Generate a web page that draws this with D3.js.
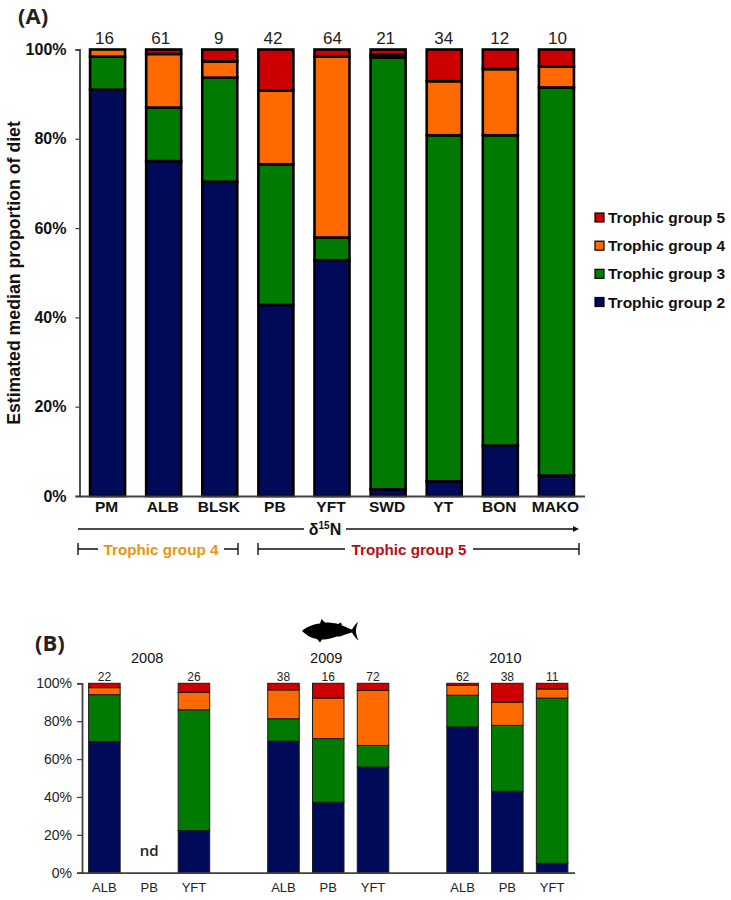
<!DOCTYPE html>
<html><head><meta charset="utf-8">
<script src="https://cdn.jsdelivr.net/npm/d3@7/dist/d3.min.js"></script>
<style>html,body{margin:0;padding:0;background:#fff}svg{display:block}text{font-family:"Liberation Sans",Arial,sans-serif}</style>
</head><body><svg id="c" width="731" height="900"></svg>
<script>
const groups = ["Trophic group 2","Trophic group 3","Trophic group 4","Trophic group 5"];
const colors = ["#000a58","#007a00","#ff6a00","#cc0000"];
const percentTicks = [0,20,40,60,80,100];

const speciesA = ["PM","ALB","BLSK","PB","YFT","SWD","YT","BON","MAKO"];
const sampleA  = [16,61,9,42,64,21,34,12,10];
const tg2A = [91,75,70.4,42.8,52.8,1.5,3.3,11.3,4.6];
const tg3A = [7.4,12,23.3,31.5,5.1,96.7,77.5,69.5,86.9];
const tg4A = [1.6,12,3.6,16.5,40.5,0.6,12.1,14.8,4.7];
const tg5A = [0,1,2.7,9.2,1.6,1.2,7.1,4.4,3.8];

const slotsB   = ["a0","a1","a2","g1","b0","b1","b2","g2","c0","c1","c2"];
const speciesB = ["ALB","PB","YFT","","ALB","PB","YFT","","ALB","PB","YFT"];
const sampleB  = [22,null,26,null,38,16,72,null,62,38,11];
const tg2B = [69.3,0,22.3,0,69.5,37.2,55.8,0,77,43,5];
const tg3B = [24.7,0,63.7,0,11.8,33.6,11.4,0,16.7,34.8,87.2];
const tg4B = [3.7,0,9.2,0,15.2,21.4,29,0,5.3,12.2,4.8];
const tg5B = [2.3,0,4.8,0,3.5,7.8,3.8,0,1,10,3];
const yearsB = [["2008","a1"],["2009","b1"],["2010","c1"]];

const svg = d3.select("#c");
const stack = d3.stack().keys([0,1,2,3]);

function panel(o){
  const g = svg.append("g");
  const x = d3.scaleBand().domain(o.keys).range(o.xr).paddingInner(o.pad).paddingOuter(o.pad/2);
  const y = d3.scaleLinear().domain([0,100]).range(o.yr);
  const rows = o.keys.map((k,i)=>o.series.map(s=>s[i]));
  const layers = stack(rows);
  g.selectAll("g.layer").data(layers).join("g").attr("class","layer")
    .attr("fill",(d,i)=>colors[i])
    .selectAll("rect").data((d,li)=>d.map((v,i)=>({v,i,li})).filter(e=>e.v[1]-e.v[0]>0)).join("rect")
    .attr("x",e=>x(o.keys[e.i])).attr("width",x.bandwidth())
    .attr("y",e=>y(e.v[1])).attr("height",e=>y(e.v[0])-y(e.v[1]))
    .attr("stroke",o.barStroke).attr("stroke-width",o.barW);

  const ya = g.append("g").attr("transform",`translate(${o.xr[0]},0)`)
    .call(d3.axisLeft(y).tickValues(percentTicks).tickFormat(d=>d+"%").tickSize(o.tick).tickPadding(o.tp));
  ya.select(".domain").attr("stroke","#404040").attr("stroke-width",o.axisW);
  ya.selectAll(".tick line").attr("stroke","#404040").attr("stroke-width",o.axisW*0.7);
  ya.selectAll("text").attr("fill",o.tickColor).attr("font-size",o.fs).attr("font-weight",o.weight);

  const xa = g.append("g").attr("transform",`translate(0,${o.yr[0]})`)
    .call(d3.axisBottom(x).tickFormat((d,i)=>o.labels[i]).tickSize(0).tickPadding(o.xp));
  xa.select(".domain").attr("stroke","#404040").attr("stroke-width",o.axisW);
  xa.selectAll("text").attr("fill",o.tickColor).attr("font-size",o.xfs).attr("font-weight",o.weight).attr("dx",o.xdx);

  g.selectAll("text.n").data(o.keys.map((k,i)=>({k,n:o.n[i],i})).filter(d=>d.n!=null)).join("text")
    .attr("class","n").attr("x",d=>x(d.k)+x.bandwidth()/2+(o.nudge?o.nudge[d.i]:0)).attr("y",o.ny)
    .attr("text-anchor","middle").attr("font-size",o.nfs).attr("fill","#222").text(d=>d.n);
  return {x,y};
}

const A = panel({keys:speciesA,labels:speciesA,n:sampleA,series:[tg2A,tg3A,tg4A,tg5A],
  nudge:[-3,-3,-1,-3,0.5,-2.5,-0.5,-0.5,1],
  xr:[79.5,584.5],yr:[496,49.5],pad:0.376,barStroke:"#000",barW:2.6,axisW:1.8,tick:4,tp:9,xp:5,
  fs:16,xfs:15.5,xdx:-1,weight:"bold",tickColor:"#111",nfs:17,ny:44});

const B = panel({keys:slotsB,labels:speciesB,n:sampleB,series:[tg2B,tg3B,tg4B,tg5B],
  xr:[82,574.5],yr:[872.7,683.3],pad:0.296,barStroke:"#1a1a1a",barW:1,axisW:1.8,tick:5,tp:5,xp:10,
  fs:14,xfs:13,xdx:0,weight:"normal",tickColor:"#222",nfs:12,ny:680.5});

svg.append("text").attr("x",18).attr("y",24).attr("font-size",22).attr("font-weight","bold").attr("fill","#222").text("(A)").style("font-family","'Open Sans'");
svg.append("text").attr("x",35).attr("y",651).attr("font-size",22).attr("font-weight","bold").attr("fill","#222").text("(B)").style("font-family","'Open Sans'");

svg.append("text").attr("transform","translate(20,273) rotate(-90)").attr("text-anchor","middle")
  .attr("font-size",17.7).attr("font-weight","bold").attr("fill","#111").text("Estimated median proportion of diet");

const legY = d3.scalePoint().domain(d3.range(4)).range([302,217.5]);
const leg = svg.append("g").selectAll("g").data(groups).join("g").attr("transform",(d,i)=>`translate(595,${legY(i)})`);
leg.append("rect").attr("x",0).attr("y",-4.5).attr("width",9).attr("height",9).attr("fill",(d,i)=>colors[i]).attr("stroke","#000").attr("stroke-width",1.2);
leg.append("text").attr("x",13).attr("y",5.5).attr("font-size",15.5).attr("font-weight","bold").attr("fill","#111").text(d=>d);

const marks = svg.append("g").attr("stroke","#111").attr("stroke-width",1.4).attr("fill","none");
const arrowY = 529, brY = 549;
marks.append("line").attr("x1",78).attr("x2",304).attr("y1",arrowY).attr("y2",arrowY);
marks.append("line").attr("x1",346).attr("x2",574).attr("y1",arrowY).attr("y2",arrowY);
svg.append("path").attr("d",d3.line()([[573,arrowY-3],[579,arrowY],[573,arrowY+3]])+"Z").attr("fill","#111");
const dl = svg.append("text").attr("x",325).attr("y",535).attr("text-anchor","middle").attr("font-size",16).attr("font-weight","bold").attr("fill","#111");
dl.append("tspan").text("δ");
dl.append("tspan").attr("font-size",10).attr("dy",-6).text("15");
dl.append("tspan").attr("dy",6).text("N");

[[78,238,98,224,"Trophic group 4","#e8960c",161],[258,579,345,473,"Trophic group 5","#b50d14",409]].forEach(b=>{
  marks.append("path").attr("d",`M${b[0]},${brY-6}V${brY+6}M${b[0]},${brY}H${b[2]}M${b[3]},${brY}H${b[1]}M${b[1]},${brY-6}V${brY+6}`);
  svg.append("text").attr("x",b[6]).attr("y",brY+5.5).attr("text-anchor","middle").attr("font-size",15.2).attr("font-weight","bold").attr("fill",b[5]).text(b[4]);
});

svg.selectAll("text.yr").data(yearsB).join("text").attr("class","yr")
  .attr("x",d=>B.x(d[1])+B.x.bandwidth()/2-2).attr("y",663).attr("text-anchor","middle").attr("font-size",14.5).attr("fill","#111").text(d=>d[0]);
svg.append("text").attr("x",B.x("a1")+B.x.bandwidth()/2).attr("y",856).attr("text-anchor","middle").attr("font-size",15).attr("font-weight",600).attr("fill","#222").style("font-family","'Open Sans'").text("nd");

svg.append("path").attr("fill","#000").attr("d",
 "M302,631 C306,627 314,624 320,623.5 L321.5,619 L325,622.5 C330,622.5 335,623 338,624 L341,622.5 L342,625.5 C346,627 349,628.5 352,629.5 C354,626 356,623.5 358,622 C356.5,626 356,629 356,631 C356,634 357,637 358.5,640.5 C356,638.5 354,636 352,632.5 C348,633.5 344,635 340,636.5 L337,636.5 L332,638 C328,639 325,639.5 322,639.5 L320,642.5 L317,639 C311,638 306,635 302,631 Z");
</script></body></html>
